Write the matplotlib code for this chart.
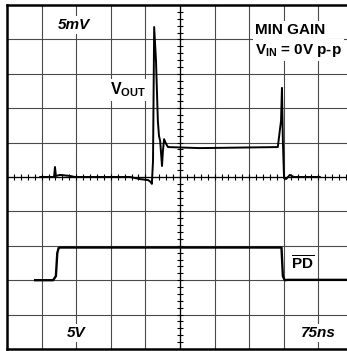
import numpy as np
import matplotlib
matplotlib.use("Agg")
import matplotlib.pyplot as plt

plt.rcParams['font.family'] = ['Liberation Sans', 'DejaVu Sans']
plt.rcParams['mathtext.fontset'] = 'custom'
plt.rcParams['mathtext.rm'] = 'Liberation Sans:bold'
plt.rcParams['mathtext.bf'] = 'Liberation Sans:bold'
plt.rcParams['mathtext.it'] = 'Liberation Sans:bold:italic'

# scope settings
NS_PER_DIV = 75.0
VOUT_MV_PER_DIV = 5.0
PD_V_PER_DIV = 5.0
PD_OFFSET_DIV = -3.0

# output transient (time in ns, amplitude in mV)
vout_t = [72, 102, 104, 106, 115, 137, 147, 267, 288, 306, 312, 314, 316.5,
          319, 323, 327, 329.5, 332, 336, 338, 340.5, 345, 349, 418, 587,
          592, 594, 596, 598, 600.5, 605, 613, 622, 678]
vout_mv = [0, 0, 1.45, 0.15, 0.3, 0.15, 0, 0, -0.3, -0.45, -0.75, -1.0, 2.35,
           21.8, 16.85, 8.15, 5.95, 5.25, 1.6, 3.8, 5.5, 4.8, 4.35, 4.2, 4.35,
           7.1, 8.15, 12.95, 5.25, -0.15, -0.3, 0.3, 0, 0]

# power-down control (time in ns, level in V)
pd_t = [61, 100, 106, 109, 112, 115, 595, 598, 602, 609, 750]
pd_v = [0, 0, 0.6, 3.95, 4.7, 4.75, 4.75, 0.6, 0, 0.05, 0.05]

fig = plt.figure(figsize=(3.47, 3.51), dpi=100)
ax = fig.add_axes([7 / 347, 2 / 351, 346 / 347, 344 / 351])
ax.set_xlim(0, 10)
ax.set_ylim(-5, 5)
ax.set_xticks([])
ax.set_yticks([])
for s in ax.spines.values():
    s.set_linewidth(1.8)
    s.set_color('black')

# graticule
for i in range(1, 10):
    ax.axvline(i, color='#4a4a4a', lw=0.8, zorder=1)
    ax.axhline(i - 5, color='#4a4a4a', lw=0.8, zorder=1)
ax.axvline(5, color='black', lw=0.9, zorder=1)
ax.axhline(0, color='black', lw=0.9, zorder=1)
minor = np.arange(0, 10.01, 0.2)
ax.vlines(minor, -0.09, 0.09, color='black', lw=0.8, zorder=1)
ax.hlines(minor - 5, 5 - 0.09, 5 + 0.09, color='black', lw=0.8, zorder=1)

# traces
ax.plot(np.array(vout_t) / NS_PER_DIV, np.array(vout_mv) / VOUT_MV_PER_DIV,
        color='black', lw=1.4, zorder=4, solid_joinstyle='round')
ax.plot(np.array(pd_t) / NS_PER_DIV,
        np.array(pd_v) / PD_V_PER_DIV + PD_OFFSET_DIV,
        color='black', lw=1.7, zorder=4, solid_joinstyle='round')

box = dict(facecolor='white', edgecolor='none', pad=1.5)
ax.text(1.94, 4.42, '5mV', fontsize=11, fontweight='bold', style='italic',
        ha='center', va='center', bbox=box, zorder=3)
ax.text(2.98, 2.53, r'$\mathbf{V_{OUT}}$', fontsize=11.5,
        ha='left', va='center', bbox=box, zorder=3)
ax.text(7.17, 4.27, 'MIN GAIN', fontsize=11, fontweight='bold',
        ha='left', va='center', bbox=box, zorder=3)
ax.text(7.17, 3.69, r'$\mathbf{V_{IN}}$ = 0V p-p', fontsize=11,
        fontweight='bold', ha='left', va='center', bbox=box, zorder=3)
ax.text(8.21, -2.51, r'$\overline{\mathbf{PD}}$', fontsize=11,
        ha='left', va='center', bbox=box, zorder=3)
ax.text(1.99, -4.53, '5V', fontsize=11, fontweight='bold', style='italic',
        ha='center', va='center', bbox=box, zorder=3)
ax.text(8.99, -4.53, '75ns', fontsize=11, fontweight='bold', style='italic',
        ha='center', va='center', bbox=box, zorder=3)

fig.savefig('out.png', dpi=100)
